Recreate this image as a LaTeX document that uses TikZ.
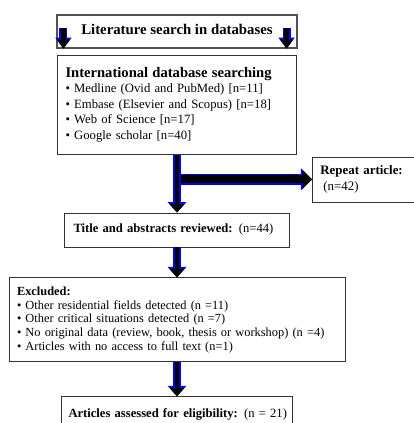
\documentclass[tikz,border=0pt]{standalone}
\usepackage{fontspec}
\setmainfont{Liberation Serif}
\usepackage{tikz}
\usetikzlibrary{arrows.meta,positioning}
\definecolor{outline}{HTML}{0000F0}
\definecolor{boxline}{HTML}{333333}
\tikzset{
  flowbox/.style={draw=boxline, line width=0.9pt, align=left, inner xsep=8pt,
    inner ysep=0pt, font=\fontsize{12.7}{15.5}\selectfont},
  headbox/.style={flowbox, draw=boxline!85, line width=1.2pt, align=center},
  downarr/.style={line width=4.5pt, draw=black,
    -{Triangle[length=8.5pt,width=15pt,line width=0pt]},
    preaction={draw=outline, line width=7.5pt,
      -{Triangle[length=10.5pt,width=19pt,line width=0pt]}}},
  smallarr/.style={line width=5pt, draw=black,
    -{Triangle[length=9pt,width=13pt,line width=0pt]},
    preaction={draw=outline, line width=8pt,
      -{Triangle[length=11pt,width=16.5pt,line width=0pt]}}},
  sidearr/.style={line width=8pt, draw=black,
    -{Triangle[length=9pt,width=18pt,line width=0pt]},
    preaction={draw=outline, line width=11pt,
      -{Triangle[length=11pt,width=22pt,line width=0pt]}}}
}

\begin{document}
\begin{tikzpicture}[x=1pt, y=1pt]
    \useasboundingbox (0,0) rectangle (414,-423);
    \node[headbox, minimum width=240pt, minimum height=33pt, inner sep=0pt] (lit) at (177,-31.5)
      {\raisebox{4pt}{\fontsize{14.8}{16}\selectfont\bfseries Literature search in databases}};
    \node[flowbox, text width=223pt, minimum height=99pt, below=6pt of lit] (search)
      {{\fontsize{14.6}{16.5}\selectfont\bfseries International database searching}\\
       \textbullet\ Medline (Ovid and PubMed) [n=11]\\
       \textbullet\ Embase (Elsevier and Scopus) [n=18]\\
       \textbullet\ Web of Science [n=17]\\
       \textbullet\ Google scholar [n=40]};
    \node[flowbox, text width=88pt, minimum height=45pt, font=\fontsize{12.9}{16.5}\selectfont,
      below right=2pt and 15pt of search.south east] (rep)
      {\textbf{Repeat article:}\\\hspace{3pt}(n=42)};
    \node[flowbox, text width=207pt, inner xsep=9pt, minimum height=34pt,
      font=\fontsize{12.6}{15}\selectfont, below=58pt of search] (title)
      {\textbf{Title and abstracts reviewed:} (n=44)};
    \node[flowbox, text width=320pt, minimum height=84pt, font=\fontsize{12.4}{13.6}\selectfont,
      below=30pt of title] (excl)
      {\textbf{Excluded:}\\
       \textbullet\ Other residential fields detected (n =11)\\
       \textbullet\ Other critical situations detected (n =7)\\
       \textbullet\ No original data (review, book, thesis or workshop) (n =4)\\
       \textbullet\ Articles with no access to full text (n=1)};
    \node[flowbox, text width=223pt, inner xsep=4pt, minimum height=35pt,
      font=\fontsize{12.6}{16}\selectfont, below=34pt of excl] (elig)
      {\hspace{3pt}\textbf{Articles assessed for eligibility:} (n~=~21)};
    % arrows
    \draw[smallarr] ([xshift=7pt,yshift=4pt]lit.west) -- ([xshift=7pt]lit.south west);
    \draw[smallarr] ([xshift=-11pt,yshift=4pt]lit.east) -- ([xshift=-11pt]lit.south east);
    \draw[downarr] (search.south) -- (search.south |- title.north);
    \coordinate (fork) at ([xshift=3.5pt]search.south |- rep.west);
    \draw[sidearr] (fork) -- (rep.west);
    \draw[downarr] (title.south) -- (title.south |- excl.north);
    \draw[downarr] (excl.south) -- (excl.south |- elig.north);
\end{tikzpicture}
\end{document}
